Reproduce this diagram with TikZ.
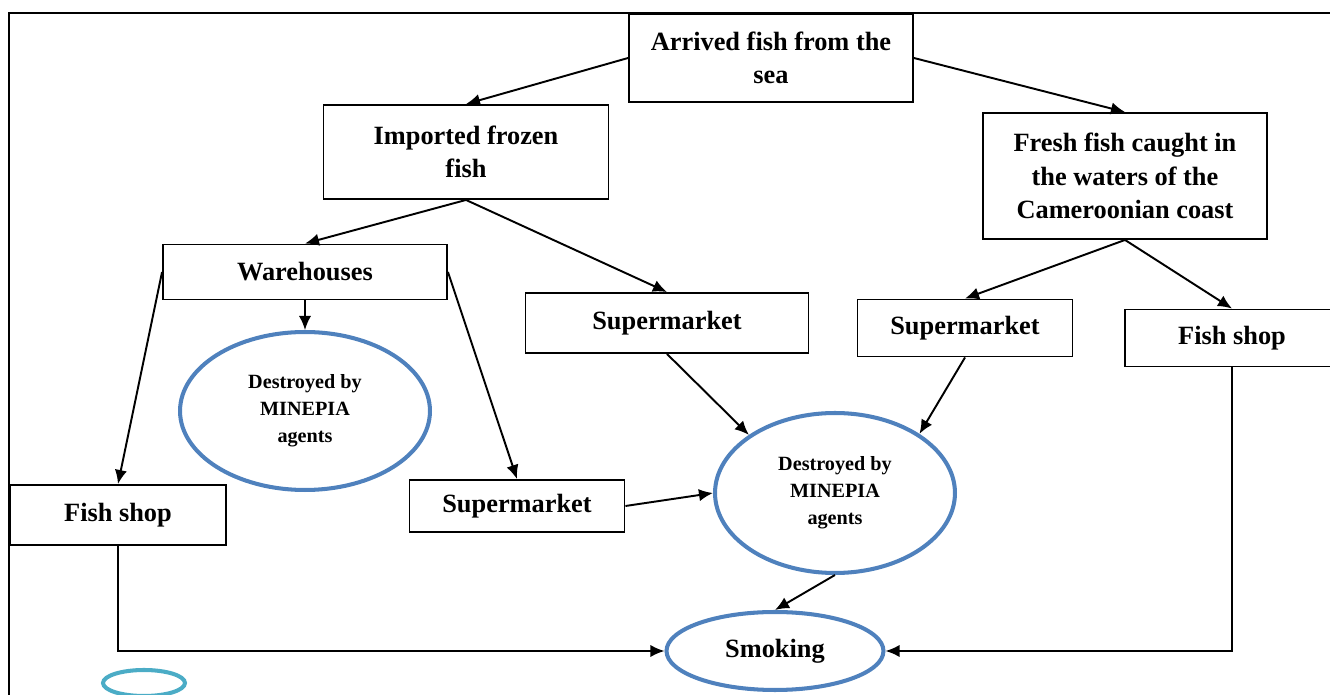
\documentclass[tikz,border=0pt]{standalone}
\usepackage{fontspec}
\setmainfont{Liberation Serif}
\usetikzlibrary{arrows,arrows.meta,positioning,shapes.geometric,calc}
\definecolor{ellblue}{HTML}{4F81BD}
\definecolor{ellcyan}{HTML}{4BACC6}
\def \boxfont {\fontsize{15}{19}\selectfont\bfseries}
\def \ellfont {\fontsize{11.5}{15.3}\selectfont\bfseries}
\tikzset{
 	block/.style= {draw, rectangle, align=center, line width=1.1pt, inner sep=0pt, font=\boxfont},
 	roundedblock/.style= {draw=ellblue, ellipse, align=center, line width=2.3pt, inner sep=0pt, font=\ellfont},
 	flow/.style= {-{Latex[length=8pt,width=7pt]}, line width=1.1pt}
 }
\begin{document}
\begin{tikzpicture}[x=0.02cm, y=-0.02cm]
\clip (0,0) rectangle (1330,695);
\draw[line width=0.8pt] (9,700) -- (9,13) -- (1340,13);

%%%%%%%%%%%%%%%%%%%%% Nodes %%%%%%%%%%%%%%%%%%%%%
	\node [block, minimum width=5.68cm, minimum height=1.76cm] (arrived) at (771,58) {Arrived fish from the\\sea};
	\node [block, minimum width=5.7cm, minimum height=1.88cm] (imported) at (466,152) {Imported frozen\\fish};
	\node [block, minimum width=5.68cm, minimum height=2.52cm] (fresh) at (1125,176) {Fresh fish caught in\\the waters of the\\Cameroonian coast};
	\node [block, minimum width=5.68cm, minimum height=1.1cm] (warehouses) at (305,272) {Warehouses};
	\node [block, minimum width=5.66cm, minimum height=1.2cm] (supA) at (667,323) {Supermarket};
	\node [block, minimum width=4.3cm, minimum height=1.14cm] (supB) at (965,328) {Supermarket};
	\node [block, minimum width=4.28cm, minimum height=1.14cm] (shopR) at (1232,338) {Fish shop};
	\node [block, minimum width=4.32cm, minimum height=1.2cm] (shopL) at (118,515) {Fish shop};
	\node [block, minimum width=4.3cm, minimum height=1.04cm] (supC) at (517,506) {Supermarket};
	\node [roundedblock, minimum width=5cm, minimum height=3.16cm] (destroyedA) at (305,411) {Destroyed by\\MINEPIA\\agents};
	\node [roundedblock, minimum width=4.8cm, minimum height=3.2cm] (destroyedB) at (835,493) {Destroyed by\\MINEPIA\\agents};
	\node [roundedblock, minimum width=4.34cm, minimum height=1.56cm, font=\boxfont] (smoking) at (775,651) {Smoking};
	\node [roundedblock, draw=ellcyan, minimum width=1.64cm, minimum height=0.52cm] (blank) at (144,683) {};

%%%%%%%%%%%%%%%%%%%%% Arrows %%%%%%%%%%%%%%%%%%%%%
	\draw [flow] (arrived.west) -- (imported.north);
	\draw [flow] (arrived.east) -- (fresh.north);
	\draw [flow] (imported.south) -- (warehouses.north);
	\draw [flow] (imported.south) -- (supA.north);
	\draw [flow] (fresh.south) -- (supB.north);
	\draw [flow] (fresh.south) -- (shopR.north);
	\draw [flow] (warehouses.south) -- (destroyedA.north);
	\draw [flow] (warehouses.west) -- (shopL.north);
	\draw [flow] (warehouses.east) -- (supC.north);
	\draw [flow] (supA.south) -- (destroyedB.146);
	\draw [flow] (supB.south) -- (destroyedB.35);
	\draw [flow] (supC.east) -- (destroyedB.west);
	\draw [flow] (destroyedB.south) -- (smoking.north);
	\draw [flow] (shopL.south) |- (smoking.west);
	\draw [flow] (shopR.south) |- (smoking.east);

\end{tikzpicture}
\end{document}
